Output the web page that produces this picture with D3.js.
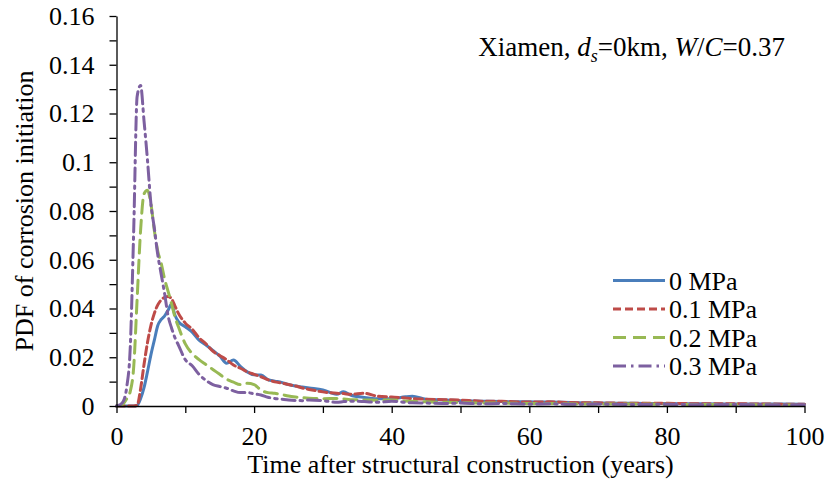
<!DOCTYPE html>
<html>
<head>
<meta charset="utf-8">
<script src="https://cdn.jsdelivr.net/npm/d3@7"></script>
<style>
  html, body { margin: 0; padding: 0; background: #fff; }
  svg { display: block; font-family: "Liberation Serif", "Times New Roman", serif; }
  svg text { font-family: "Liberation Serif", "Times New Roman", serif; }
</style>
</head>
<body>
<svg id="chart" width="826" height="481"></svg>
<script>
// ---- data ----
const years = [0, 0.5, 1, 1.5, 2, 2.5, 3, 3.5, 4, 4.5, 5, 5.5, 6, 6.5, 7, 7.5, 8, 8.5, 9, 10,
  11, 12, 13, 14, 15, 16, 17, 18, 19, 20, 21, 22, 23, 24, 25, 26, 27, 28, 30, 32,
  33, 34, 36, 38, 40, 42, 43, 45, 48, 50, 53, 56, 60, 63, 66, 70, 75, 80, 85, 90, 95, 100];

const pdf0MPa = [0, 0, 0, 0, 0, 0, 0.0003, 0.003, 0.0075, 0.014, 0.021, 0.027, 0.033, 0.0355, 0.037, 0.0393, 0.0418, 0.0372, 0.0346, 0.0325,
  0.0303, 0.027, 0.025, 0.0228, 0.0205, 0.0175, 0.0189, 0.0163, 0.014, 0.0128, 0.0127, 0.0108, 0.0102, 0.0097, 0.0088, 0.0082, 0.0078, 0.0074, 0.0066, 0.0048,
  0.0058, 0.0045, 0.0035, 0.003, 0.003, 0.0038, 0.004, 0.0028, 0.0025, 0.0022, 0.002, 0.0018, 0.0017, 0.0016, 0.0014, 0.0012, 0.0011, 0.001, 0.0009, 0.0008, 0.0008, 0.0007];

const pdf01MPa = [0, 0, 0, 0, 0, 0, 0.0003, 0.007, 0.017, 0.026, 0.033, 0.038, 0.0415, 0.0435, 0.0446, 0.0449, 0.044, 0.041, 0.038, 0.034,
  0.0315, 0.028, 0.0255, 0.0225, 0.0207, 0.019, 0.0168, 0.0155, 0.014, 0.013, 0.012, 0.0108, 0.0099, 0.0094, 0.0088, 0.0082, 0.0074, 0.0068, 0.0058, 0.0052,
  0.0051, 0.0048, 0.0052, 0.004, 0.0037, 0.0033, 0.003, 0.0028, 0.0026, 0.0024, 0.002, 0.0019, 0.0016, 0.0017, 0.0014, 0.0013, 0.0011, 0.0011, 0.0009, 0.0009, 0.0008, 0.0007];

const pdf02MPa = [0, 0.0002, 0.001, 0.003, 0.006, 0.016, 0.044, 0.072, 0.087, 0.0885, 0.083, 0.072, 0.0635, 0.0585, 0.052, 0.047, 0.042, 0.0365, 0.0325, 0.0255,
  0.0215, 0.019, 0.017, 0.015, 0.013, 0.011, 0.0098, 0.0088, 0.0093, 0.0088, 0.0065, 0.0055, 0.0052, 0.0047, 0.0041, 0.0037, 0.0034, 0.0032, 0.003, 0.0031,
  0.0029, 0.0026, 0.0025, 0.0024, 0.0025, 0.002, 0.0019, 0.0017, 0.0015, 0.0014, 0.0012, 0.0012, 0.001, 0.001, 0.0009, 0.0008, 0.0008, 0.0007, 0.0006, 0.0006, 0.0005, 0.0004];

const pdf03MPa = [0, 0.0005, 0.002, 0.008, 0.024, 0.072, 0.127, 0.1315, 0.117, 0.101, 0.083, 0.073, 0.062, 0.054, 0.046, 0.037, 0.032, 0.028, 0.025, 0.019,
  0.0165, 0.013, 0.0105, 0.0088, 0.008, 0.0073, 0.0062, 0.0055, 0.0055, 0.005, 0.0045, 0.0036, 0.0031, 0.0028, 0.0025, 0.0023, 0.0022, 0.0025, 0.0022, 0.0015,
  0.0018, 0.002, 0.0018, 0.0015, 0.002, 0.0015, 0.0013, 0.0012, 0.001, 0.0012, 0.0009, 0.001, 0.0008, 0.0009, 0.0007, 0.0008, 0.0006, 0.0007, 0.0005, 0.0006, 0.0005, 0.0005];

const seriesNames = ["0 MPa", "0.1 MPa", "0.2 MPa", "0.3 MPa"];
const seriesValues = [pdf0MPa, pdf01MPa, pdf02MPa, pdf03MPa];

const xTicks = [0, 20, 40, 60, 80, 100];
const xMinorTicks = [10, 30, 50, 70, 90];
const yTicks = [0, 0.02, 0.04, 0.06, 0.08, 0.1, 0.12, 0.14, 0.16];
const yMinorTicks = [0.01, 0.03, 0.05, 0.07, 0.09, 0.11, 0.13, 0.15];

const xTitle = "Time after structural construction (years)";
const yTitle = "PDF of corrosion initiation";

// ---- styles ----
const colors = ["#4A7EBB", "#BE4B48", "#98B954", "#7D60A0"];
const dashes = [null, "8,4", "13,7", "13,5,2.5,5"];
const serif = "'Liberation Serif', 'Times New Roman', serif";

const svg = d3.select("#chart");
const W = 826, H = 481;
const margin = { left: 116.5, right: W - 804.5, top: 16, bottom: H - 406 };

const x = d3.scaleLinear().domain([0, 100]).range([margin.left, W - margin.right]);
const y = d3.scaleLinear().domain([0, 0.16]).range([H - margin.bottom, margin.top]);

const fontSize = 26;

// lines
const line = d3.line()
  .x(d => x(d[0]))
  .y(d => y(d[1]))
  .curve(d3.curveMonotoneX);

const gLines = svg.append("g");
seriesValues.forEach((vals, i) => {
  const pts = years.map((t, j) => [t, vals[j]]);
  gLines.append("path")
    .datum(pts)
    .attr("d", line)
    .attr("fill", "none")
    .attr("stroke", colors[i])
    .attr("stroke-width", 3)
    .attr("stroke-linejoin", "round")
    .attr("stroke-linecap", "round")
    .attr("stroke-dasharray", dashes[i]);
});

// axes
function styleAxis(g) {
  g.attr("font-family", null).attr("font-size", null);
  g.selectAll(".domain").attr("stroke", "#000").attr("stroke-width", 1.3);
  g.selectAll(".tick line").attr("stroke", "#000").attr("stroke-width", 1.3);
  g.selectAll("text").style("font-family", serif)
    .attr("font-size", fontSize).attr("fill", "#000");
}

const xAxis = svg.append("g")
  .attr("transform", `translate(0,${y(0)})`)
  .call(d3.axisBottom(x).tickValues(xTicks).tickSize(7).tickSizeOuter(0).tickFormat(d3.format("d")));
styleAxis(xAxis);
xAxis.selectAll("text").attr("dy", null).attr("y", 39);

const xAxisMinor = svg.append("g")
  .attr("transform", `translate(0,${y(0)})`)
  .call(d3.axisBottom(x).tickValues(xMinorTicks).tickSize(7).tickSizeOuter(0).tickFormat(""));
styleAxis(xAxisMinor);
xAxisMinor.select(".domain").remove();

const yAxis = svg.append("g")
  .attr("transform", `translate(${x(0)},0)`)
  .call(d3.axisLeft(y).tickValues(yTicks).tickSize(7).tickSizeOuter(0).tickPadding(15)
    .tickFormat(d => d === 0 ? "0" : String(+d.toFixed(2))));
styleAxis(yAxis);

const yAxisMinor = svg.append("g")
  .attr("transform", `translate(${x(0)},0)`)
  .call(d3.axisLeft(y).tickValues(yMinorTicks).tickSize(7).tickSizeOuter(0).tickFormat(""));
styleAxis(yAxisMinor);
yAxisMinor.select(".domain").remove();

// axis titles
svg.append("text")
  .attr("x", (x(0) + x(100)) / 2)
  .attr("y", 473)
  .attr("text-anchor", "middle")
  .attr("font-size", fontSize)
  .attr("fill", "#000")
  .text(xTitle);

svg.append("text")
  .attr("transform", `translate(33,${(y(0) + y(0.16)) / 2}) rotate(-90)`)
  .attr("text-anchor", "middle")
  .attr("font-size", fontSize)
  .attr("fill", "#000")
  .text(yTitle);

// annotation
const ann = svg.append("text")
  .attr("x", 785)
  .attr("y", 56)
  .attr("text-anchor", "end")
  .attr("font-size", 27)
  .attr("fill", "#000");
ann.append("tspan").text("Xiamen, ");
ann.append("tspan").attr("font-style", "italic").text("d");
ann.append("tspan").attr("font-style", "italic").attr("font-size", 18).attr("dy", 6).text("s");
ann.append("tspan").attr("dy", -6).text("=0km, ");
ann.append("tspan").attr("font-style", "italic").text("W");
ann.append("tspan").text("/");
ann.append("tspan").attr("font-style", "italic").text("C");
ann.append("tspan").text("=0.37");

// legend
const legend = svg.append("g");
const legBase = 375, legStep = 28.5;
seriesNames.forEach((name, i) => {
  const yb = legBase - (seriesNames.length - 1 - i) * legStep;
  const yc = yb - 9;
  legend.append("line")
    .attr("x1", 613).attr("x2", 665)
    .attr("y1", yc).attr("y2", yc)
    .attr("stroke", colors[i])
    .attr("stroke-width", 3)
    .attr("stroke-dasharray", dashes[i]);
  legend.append("text")
    .attr("x", 669).attr("y", yb)
    .attr("font-size", fontSize)
    .attr("fill", "#000")
    .text(name);
});
</script>
</body>
</html>
